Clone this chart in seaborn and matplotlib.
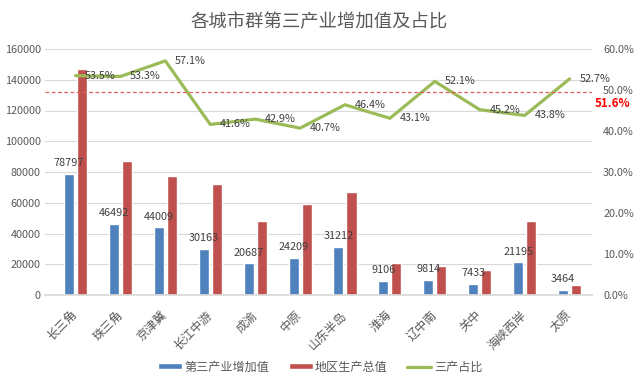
import matplotlib
matplotlib.use("Agg")
import matplotlib.pyplot as plt
import matplotlib.transforms as mtransforms
import numpy as np
import pandas as pd
import seaborn as sns
from matplotlib.lines import Line2D
from matplotlib.patches import Patch
from matplotlib.ticker import FuncFormatter, MultipleLocator

cities = ["长三角", "珠三角", "京津冀", "长江中游", "成渝", "中原", "山东半岛",
          "淮海", "辽中南", "关中", "海峡西岸", "太原"]
tertiary = [78797, 46492, 44009, 30163, 20687, 24209, 31212, 9106, 9814, 7433, 21195, 3464]
gdp = [147200, 87200, 77100, 72500, 48200, 59500, 67300, 21100, 18800, 16400, 48400, 6600]
share = [0.535, 0.533, 0.571, 0.416, 0.429, 0.407, 0.464, 0.431, 0.521, 0.452, 0.438, 0.527]
avg_share = 0.516      # label shown on the right
ref_level = 0.495      # where the dashed reference line sits in the picture

series_names = ["第三产业增加值", "地区生产总值", "三产占比"]
colors = {"第三产业增加值": "#4F81BD", "地区生产总值": "#C0504D", "三产占比": "#9BBB59"}

sns.set_theme(style="white")
plt.rcParams["font.family"] = ["Noto Sans CJK SC", "DejaVu Sans"]
plt.rcParams["axes.unicode_minus"] = False

text_grey = "#595959"

bars = pd.DataFrame({
    "city": cities * 2,
    "series": [series_names[0]] * len(cities) + [series_names[1]] * len(cities),
    "value": tertiary + gdp,
})
line_df = pd.DataFrame({"pos": np.arange(len(cities)), "share": share})

fig = plt.figure(figsize=(6.39, 3.81), dpi=100)
ax = fig.add_axes([45 / 639, 1 - 295 / 381, 547 / 639, 246 / 381])

sns.barplot(data=bars, x="city", y="value", hue="series", order=cities,
            hue_order=series_names[:2], palette=colors, width=0.58, gap=0.23,
            saturation=1, ax=ax, legend=False)

ax.bar_label(ax.containers[0], labels=[str(v) for v in tertiary], padding=4,
             fontsize=7.8, color="#404040")

ax.set_ylim(0, 160000)
ax.yaxis.set_major_locator(MultipleLocator(20000))
ax.set_xlim(-0.68, 11.5)
ax.grid(axis="y", color="#D9D9D9", linewidth=0.8)
ax.set_axisbelow(True)
for s in ["top", "right", "left"]:
    ax.spines[s].set_visible(False)
ax.spines["bottom"].set_color("#D9D9D9")
ax.tick_params(axis="both", length=0, colors=text_grey, labelsize=7.8)
ax.tick_params(axis="y", pad=3)
ax.tick_params(axis="x", pad=13)
ax.set_xlabel("")
ax.set_ylabel("")
for lbl in ax.get_xticklabels():
    lbl.set_rotation(45)
    lbl.set_ha("right")
    lbl.set_va("center")
    lbl.set_rotation_mode("anchor")
    lbl.set_fontsize(8.7)

ax2 = ax.twinx()
sns.lineplot(data=line_df, x="pos", y="share", color=colors["三产占比"],
             linewidth=2.3, ax=ax2)
ax2.set_ylim(0, 0.6)
ax2.set_xlim(-0.68, 11.5)
ax2.yaxis.set_major_locator(MultipleLocator(0.1))
ax2.yaxis.set_major_formatter(FuncFormatter(lambda v, _: f"{v * 100:.1f}%"))
ax2.tick_params(axis="y", length=0, colors=text_grey, labelsize=7.8, pad=8)
ax2.set_ylabel("")
ax2.set_xlabel("")
for s in ["top", "right", "left", "bottom"]:
    ax2.spines[s].set_visible(False)

for i, v in enumerate(share):
    ax2.annotate(f"{v * 100:.1f}%", (i, v), xytext=(7, 0), textcoords="offset points",
                 ha="left", va="center", fontsize=7.8, color="#404040")

ax2.axhline(ref_level, color="#E06060", linestyle=(0, (3, 2)), linewidth=0.9)
trans = mtransforms.blended_transform_factory(ax2.transAxes, ax2.transData)
ax2.annotate(f"{avg_share * 100:.1f}%", (1.0, ref_level), xycoords=trans,
             xytext=(2, -8), textcoords="offset points", ha="left", va="center",
             fontsize=8.3, fontweight="bold", color="#FF0000")

fig.suptitle("各城市群第三产业增加值及占比", y=1 - 22 / 381, va="center",
             fontsize=13.2, color=text_grey)

handles = [
    Patch(facecolor=colors[series_names[0]]),
    Patch(facecolor=colors[series_names[1]]),
    Line2D([], [], color=colors[series_names[2]], linewidth=2.3),
]
fig.legend(handles, series_names, loc="center", bbox_to_anchor=(320 / 639, 1 - 367 / 381),
           ncol=3, frameon=False, fontsize=8.7, handlelength=2.0, handleheight=0.45,
           handletextpad=0.2, columnspacing=1.6, labelcolor=text_grey)

fig.savefig("out.png", dpi=100)
